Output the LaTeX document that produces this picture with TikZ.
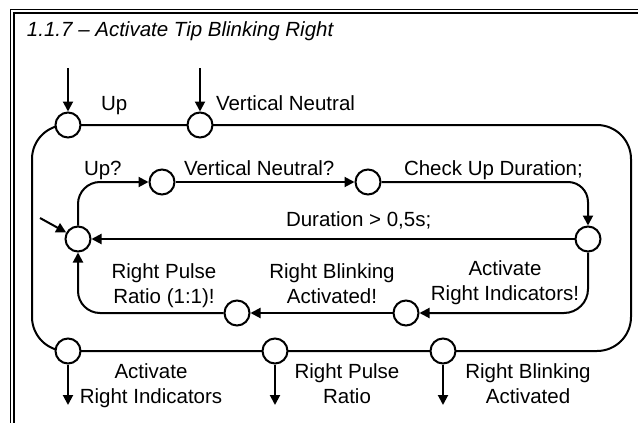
\documentclass[tikz,border=0pt]{standalone}
\usepackage{fontspec}
\setmainfont{Liberation Sans}
\usepackage{tikz}
\usetikzlibrary{arrows.meta,backgrounds}

\begin{document}
\begin{tikzpicture}[>={Triangle[length=10pt,width=10pt]},x=1pt,y=-1pt,line width=2pt,every node/.style={font=\fontsize{20.5}{25}\selectfont}]
\tikzstyle{port}=[circle,draw,fill=white,minimum size=25pt,inner sep=0pt]
\tikzstyle{lbl}=[inner sep=0pt,anchor=base west]
\tikzstyle{lbltwo}=[inner sep=0pt,anchor=north,align=center]
\useasboundingbox (0,0) rectangle (638,423);
\draw[line width=1pt] (10,423) -- (10,9) -- (638,9);
\draw[line width=1.6pt] (14,423) -- (14,13) -- (638,13);
\node[lbl,font=\fontsize{20.5}{25}\selectfont\itshape] (title) at (26,36) {1.1.7 – Activate Tip Blinking Right};
% outer ports
\node[port] (up) at (68,125) {};
\node[port] (vn) at (200,125) {};
\node[port] (ari) at (68,351) {};
\node[port] (rpr) at (275,351) {};
\node[port] (rba) at (443,351) {};
% inner ports
\node[port] (ini) at (78,239) {};
\node[port] (upq) at (162,182) {};
\node[port] (vnq) at (368,182) {};
\node[port] (chk) at (588,239) {};
\node[port] (act) at (406,313) {};
\node[port] (blk) at (237,313) {};
\coordinate (nw) at (32,125);
\coordinate (ne) at (631,125);
\coordinate (sw) at (32,351);
\coordinate (upin) at (68,68);
\coordinate (vnin) at (200,68);
\coordinate (ariout) at (68,405);
\coordinate (rprout) at (275,405);
\coordinate (rbaout) at (443,405);
\coordinate (rst) at (40,218);
\begin{scope}[on background layer]
\draw[line width=2pt,black,rounded corners=34pt] (sw |- ini) -- (nw) -- (ne) -- (ne |- sw) -- (sw) -- cycle;
\end{scope}
\draw[->] (upin) -- (up);
\draw[->] (vnin) -- (vn);
\draw[->] (ari) -- (ariout);
\draw[->] (rpr) -- (rprout);
\draw[->] (rba) -- (rbaout);
\draw[->] (rst) -- (ini);
\draw[->,rounded corners=22pt] (ini) |- (upq);
\draw[->] (upq) -- (vnq);
\draw[->,rounded corners=20pt] (vnq) -| (chk);
\draw[->] (chk) -- (ini);
\draw[->,rounded corners=24pt] (chk) |- (act);
\draw[->] (act) -- (blk);
\draw[->,rounded corners=22pt] (blk) -| (ini);
% labels
\node[lbl] (lup) at (100,110) {Up};
\node[lbl] (lvn) at (215,110) {Vertical Neutral};
\node[lbl] (lupq) at (83,175) {Up?};
\node[lbl] (lvnq) at (183,175) {Vertical Neutral?};
\node[lbl] (lchk) at (403,175) {Check Up Duration;};
\node[lbl] (ldur) at (285,226) {Duration > 0,5s;};
\node[lbltwo] (lblk) at (164,263) {Right Pulse\\Ratio (1:1)!};
\node[lbltwo] (lact) at (332,263) {Right Blinking\\Activated!};
\node[lbltwo] (lchkact) at (505,260) {Activate\\Right Indicators!};
\node[lbltwo] (lari) at (151,363) {Activate\\Right Indicators};
\node[lbltwo] (lrpr) at (347,363) {Right Pulse\\Ratio};
\node[lbltwo] (lrba) at (528,363) {Right Blinking\\Activated};
\end{tikzpicture}
\end{document}
